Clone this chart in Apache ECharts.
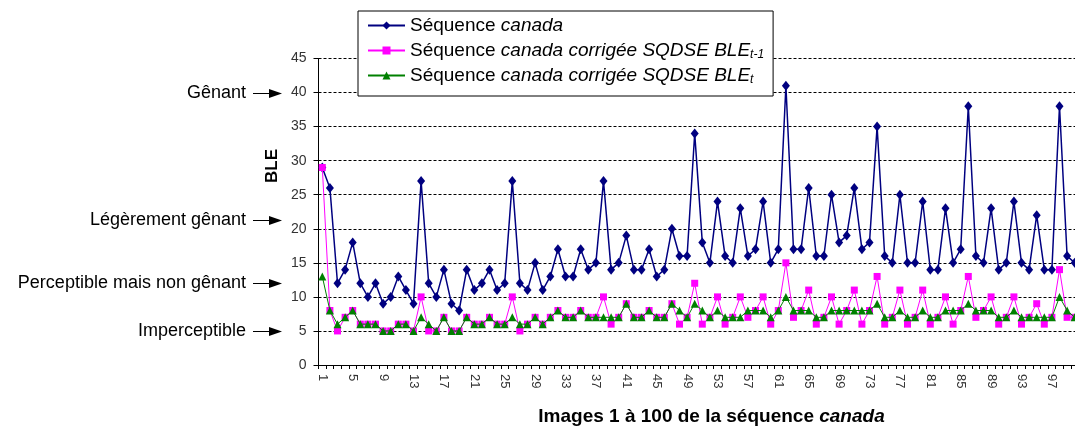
<!DOCTYPE html>
<html>
<head>
<meta charset="utf-8">
<title>BLE – séquence canada</title>
<script src="https://cdn.jsdelivr.net/npm/echarts@6/dist/echarts.min.js"></script>
<style>
  html, body { margin: 0; padding: 0; background: #fff; }
  #chart { width: 1075px; height: 426px; }
</style>
</head>
<body>
<div id="chart"></div>
<script>
// Image numbers 1..100 of the "canada" sequence
const imageIndex = Array.from({ length: 100 }, (_, i) => String(i + 1));

// BLE of the original sequence
const bleCanada = [
  29, 26, 12, 14, 18, 12, 10, 12, 9, 10,
  13, 11, 9, 27, 12, 10, 14, 9, 8, 14,
  11, 12, 14, 11, 12, 27, 12, 11, 15, 11,
  13, 17, 13, 13, 17, 14, 15, 27, 14, 15,
  19, 14, 14, 17, 13, 14, 20, 16, 16, 34,
  18, 15, 24, 16, 15, 23, 16, 17, 24, 15,
  17, 41, 17, 17, 26, 16, 16, 25, 18, 19,
  26, 17, 18, 35, 16, 15, 25, 15, 15, 24,
  14, 14, 23, 15, 17, 38, 16, 15, 23, 14,
  15, 24, 15, 14, 22, 14, 14, 38, 16, 15
];

// BLE after SQDSE correction using BLE(t-1)
const bleCorrPrev = [
  29, 8, 5, 7, 8, 6, 6, 6, 5, 5,
  6, 6, 5, 10, 5, 5, 7, 5, 5, 7,
  6, 6, 7, 6, 6, 10, 5, 6, 7, 6,
  7, 8, 7, 7, 8, 7, 7, 10, 6, 7,
  9, 7, 7, 8, 7, 7, 9, 6, 7, 12,
  6, 7, 10, 6, 7, 10, 7, 8, 10, 6,
  8, 15, 7, 8, 11, 6, 7, 10, 6, 8,
  11, 6, 8, 13, 6, 7, 11, 6, 7, 11,
  6, 7, 10, 6, 8, 13, 7, 8, 10, 6,
  7, 10, 6, 7, 9, 6, 7, 14, 7, 7
];

// BLE after SQDSE correction using BLE(t)
const bleCorrCur = [
  13, 8, 6, 7, 8, 6, 6, 6, 5, 5,
  6, 6, 5, 7, 6, 5, 7, 5, 5, 7,
  6, 6, 7, 6, 6, 7, 6, 6, 7, 6,
  7, 8, 7, 7, 8, 7, 7, 7, 7, 7,
  9, 7, 7, 8, 7, 7, 9, 8, 7, 9,
  8, 7, 8, 7, 7, 7, 8, 8, 8, 7,
  8, 10, 8, 8, 8, 7, 7, 8, 8, 8,
  8, 8, 8, 9, 7, 7, 8, 7, 7, 8,
  7, 7, 8, 8, 8, 9, 8, 8, 8, 7,
  7, 8, 7, 7, 7, 7, 7, 10, 8, 7
];

const seriesNames = [
  'Séquence canada',
  'Séquence canada corrigée SQDSE BLE(t-1)',
  'Séquence canada corrigée SQDSE BLE(t)'
];

// Legend labels with italic words and subscripts
const legendLabels = [
  '{n|Séquence }{i|canada}',
  '{n|Séquence }{i|canada corrigée SQDSE BLE}{s|t-1}',
  '{n|Séquence }{i|canada corrigée SQDSE BLE}{s|t}'
];

// Perception levels shown beside the BLE axis
const levelNames = ['Gênant', 'Légèrement gênant', 'Perceptible mais non gênant', 'Imperceptible'];
const levelValues = [40, 21.3, 12, 5];

const FONT = '"Liberation Sans", Arial, sans-serif';

const chart = echarts.init(document.getElementById('chart'), null, { renderer: 'canvas' });

const option = {
  animation: false,
  backgroundColor: '#fff',
  textStyle: { fontFamily: FONT },
  grid: {
    left: 318.5,
    top: 58.5,
    width: 760,
    height: 306.5,
    containLabel: false,
    outerBoundsMode: 'none'
  },
  legend: {
    orient: 'vertical',
    left: 358,
    top: 11,
    padding: [4, 9, 10, 9],
    itemGap: 4,
    itemWidth: 37,
    itemHeight: 10,
    backgroundColor: '#fff',
    borderColor: '#000',
    borderWidth: 1,
    borderRadius: 0,
    data: seriesNames,
    formatter: name => legendLabels[seriesNames.indexOf(name)],
    textStyle: {
      fontFamily: FONT,
      fontSize: 19,
      color: '#000',
      lineHeight: 21,
      rich: {
        n: { fontFamily: FONT, fontSize: 19, color: '#000', lineHeight: 21 },
        i: { fontFamily: FONT, fontSize: 19, color: '#000', fontStyle: 'italic', lineHeight: 21 },
        s: { fontFamily: FONT, fontSize: 12, color: '#000', fontStyle: 'italic', lineHeight: 12, verticalAlign: 'bottom' }
      }
    }
  },
  xAxis: {
    type: 'category',
    data: imageIndex,
    boundaryGap: true,
    name: '{b|Images 1 à 100 de la séquence }{bi|canada}',
    nameLocation: 'middle',
    nameGap: 42,
    nameTextStyle: {
      padding: [0, 0, 0, 26],
      rich: {
        b: { fontFamily: FONT, fontSize: 19, fontWeight: 'bold', color: '#000' },
        bi: { fontFamily: FONT, fontSize: 19, fontWeight: 'bold', fontStyle: 'italic', color: '#000' }
      }
    },
    axisLine: { lineStyle: { color: '#000', width: 1 } },
    axisTick: { show: true, interval: 0, length: 4, lineStyle: { color: '#000' } },
    axisLabel: {
      interval: 3,
      rotate: -90,
      margin: 9,
      fontFamily: FONT,
      fontSize: 13,
      color: '#333'
    },
    splitLine: { show: false }
  },
  yAxis: {
    type: 'value',
    min: 0,
    max: 45,
    interval: 5,
    axisLine: { show: true, lineStyle: { color: '#000', width: 1 } },
    axisTick: { show: true, length: 5, lineStyle: { color: '#000' } },
    axisLabel: { margin: 12, fontFamily: FONT, fontSize: 14, color: '#333' },
    splitLine: {
      show: true,
      lineStyle: { color: '#000', width: 1, type: [3, 2] }
    }
  },
  series: [
    {
      name: seriesNames[0],
      type: 'line',
      data: bleCanada,
      symbol: 'diamond',
      symbolSize: [8, 10],
      showAllSymbol: true,
      lineStyle: { color: '#000080', width: 1.5 },
      itemStyle: { color: '#000080' },
      z: 2
    },
    {
      name: seriesNames[1],
      type: 'line',
      data: bleCorrPrev,
      symbol: 'rect',
      symbolSize: 7,
      showAllSymbol: true,
      lineStyle: { color: '#ff00ff', width: 1 },
      itemStyle: { color: '#ff00ff' },
      z: 3
    },
    {
      name: seriesNames[2],
      type: 'line',
      data: bleCorrCur,
      symbol: 'triangle',
      symbolSize: [8, 8],
      showAllSymbol: true,
      lineStyle: { color: '#008000', width: 1 },
      itemStyle: { color: '#008000' },
      z: 4
    }
  ]
};

chart.setOption(option);

// Axis title and perception levels, placed from the value axis scale
const graphics = [
  {
    type: 'text',
    x: 272,
    y: 166,
    rotation: Math.PI / 2,
    style: {
      text: 'BLE',
      font: 'bold 17px ' + FONT,
      fill: '#000',
      align: 'center',
      verticalAlign: 'middle'
    }
  }
];

levelNames.forEach((label, k) => {
  const y = Math.round(chart.convertToPixel({ yAxisIndex: 0 }, levelValues[k])) + 0.5;
  graphics.push(
    {
      type: 'text',
      x: 246,
      y: y,
      style: {
        text: label,
        font: '18px ' + FONT,
        fill: '#000',
        align: 'right',
        verticalAlign: 'middle'
      }
    },
    {
      type: 'line',
      shape: { x1: 253, y1: y, x2: 271, y2: y },
      style: { stroke: '#000', lineWidth: 1 }
    },
    {
      type: 'polygon',
      shape: { points: [[269, y - 4.5], [282, y], [269, y + 4.5]] },
      style: { fill: '#000' }
    }
  );
});

chart.setOption({ graphic: graphics });
</script>
</body>
</html>
